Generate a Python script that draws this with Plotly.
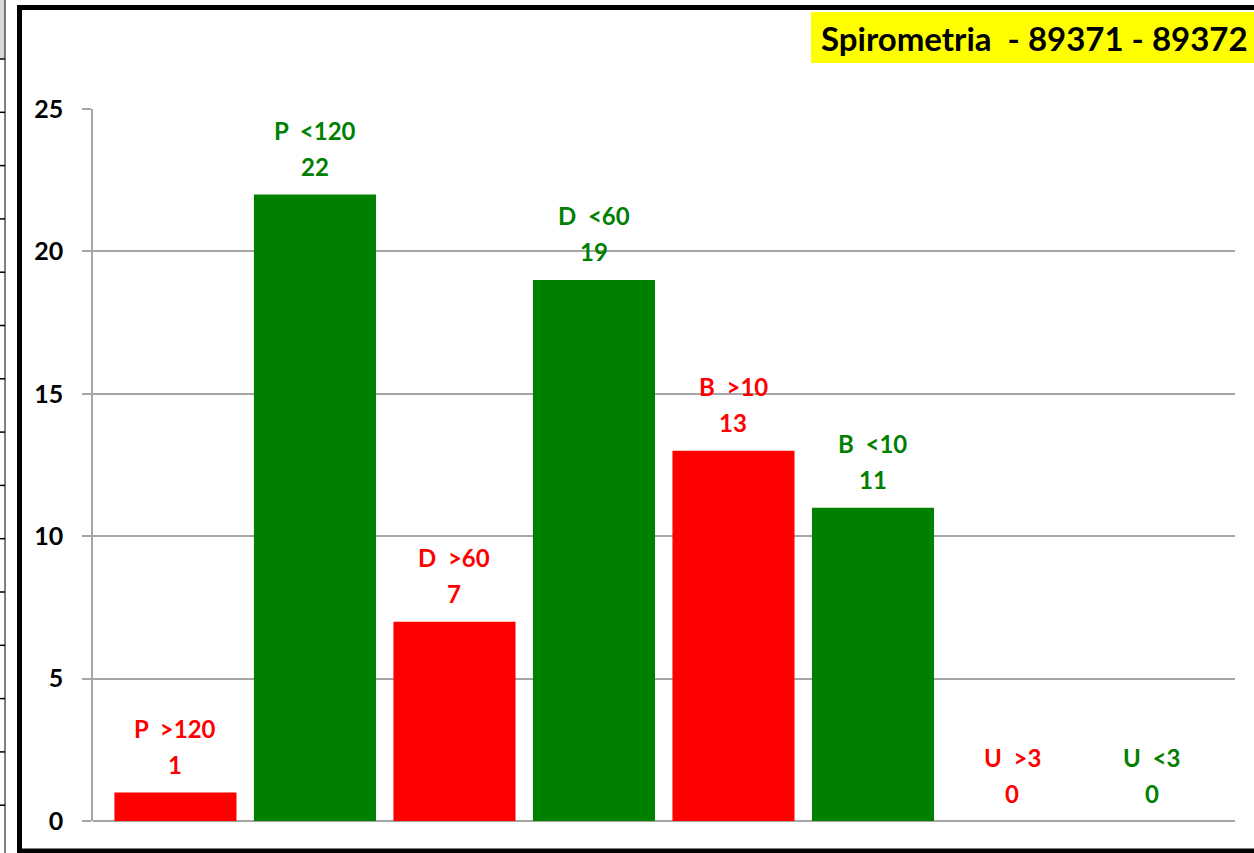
import plotly.graph_objects as go

# ---- data ----
categories = ["P  >120", "P  <120", "D  >60", "D  <60", "B  >10", "B  <10", "U  >3", "U  <3"]
values = [1, 22, 7, 19, 13, 11, 0, 0]
bar_colors = ["#FF0000", "#008000", "#FF0000", "#008000", "#FF0000", "#008000", "#FF0000", "#008000"]
y_ticks = [0, 5, 10, 15, 20, 25]
title_text = "Spirometria  - 89371 - 89372"

W, H = 1254, 853
L, R, T, B = 93, 1235, 109, 821  # plot area in pixels

FONT = "Lato, 'Liberation Sans', sans-serif"


def px(x):
    return (x - L) / (R - L)


def py(y):
    return (B - y) / (B - T)


fig = go.Figure()
fig.add_trace(go.Bar(
    x=list(range(len(categories))), y=values,
    marker=dict(color=bar_colors, line=dict(width=0)),
    hoverinfo="skip",
))

annotations = []
for i, (c, v, col) in enumerate(zip(categories, values, bar_colors)):
    annotations.append(dict(x=i, y=v, xref="x", yref="y", text=f"<b>{c}</b>", showarrow=False,
                            yshift=64, font=dict(family=FONT, size=24, color=col)))
    annotations.append(dict(x=i, y=v, xref="x", yref="y", text=f"<b>{v}</b>", showarrow=False,
                            yshift=28, font=dict(family=FONT, size=24, color=col)))

# title box
annotations.append(dict(x=px(819), y=py(38), xref="paper", yref="paper", xanchor="left", yanchor="middle",
                        text=f"<b>{title_text}</b>", showarrow=False,
                        font=dict(family=FONT, size=33, color="black")))

shapes = []
# yellow title background
shapes.append(dict(type="rect", xref="paper", yref="paper", x0=px(811), x1=px(1260), y0=py(63), y1=py(12),
                   fillcolor="#FFFF00", line=dict(width=0), layer="below"))
# thick outer chart border (top, left, bottom)
shapes.append(dict(type="line", xref="paper", yref="paper", x0=px(17), x1=px(1260), y0=py(7.5), y1=py(7.5),
                   line=dict(color="black", width=5)))
shapes.append(dict(type="line", xref="paper", yref="paper", x0=px(19.5), x1=px(19.5), y0=py(5), y1=py(856),
                   line=dict(color="black", width=5)))
shapes.append(dict(type="line", xref="paper", yref="paper", x0=px(17), x1=px(1260), y0=py(851), y1=py(851),
                   line=dict(color="black", width=5)))
# spreadsheet cell grid fragment at the far left
shapes.append(dict(type="rect", xref="paper", yref="paper", x0=px(0), x1=px(5), y0=py(58), y1=py(0),
                   fillcolor="#D9D9D9", line=dict(width=0)))
shapes.append(dict(type="line", xref="paper", yref="paper", x0=px(5), x1=px(5), y0=py(0), y1=py(853),
                   line=dict(color="black", width=1)))
k = 0
while 59 + 53.3 * k < 853:
    yy = 59 + 53.3 * k
    shapes.append(dict(type="line", xref="paper", yref="paper", x0=px(0), x1=px(5), y0=py(yy), y1=py(yy),
                       line=dict(color="black", width=1.5)))
    k += 1

fig.update_layout(
    width=W, height=H,
    margin=dict(l=L, r=W - R, t=T, b=H - B, pad=0),
    paper_bgcolor="white", plot_bgcolor="white",
    bargap=0.125,
    showlegend=False,
    xaxis=dict(range=[-0.591, 7.595], showticklabels=False, showgrid=False, zeroline=False,
               showline=False, ticks=""),
    yaxis=dict(range=[0, 25], tickvals=y_ticks, ticktext=[f"<b>{t}</b>" for t in y_ticks],
               showgrid=True, gridcolor="#A6A6A6", gridwidth=1.5,
               zeroline=True, zerolinecolor="#A6A6A6", zerolinewidth=1.5,
               showline=True, linecolor="#A6A6A6", linewidth=1.5,
               ticks="outside", ticklen=9, tickcolor="#A6A6A6", tickwidth=1.5,
               ticklabelstandoff=14,
               tickfont=dict(family=FONT, size=25, color="black")),
    annotations=annotations,
    shapes=shapes,
)

fig.write_html("out.html", config={"displayModeBar": False},
               post_script="document.body.style.margin='0';document.body.style.overflow='hidden';")
